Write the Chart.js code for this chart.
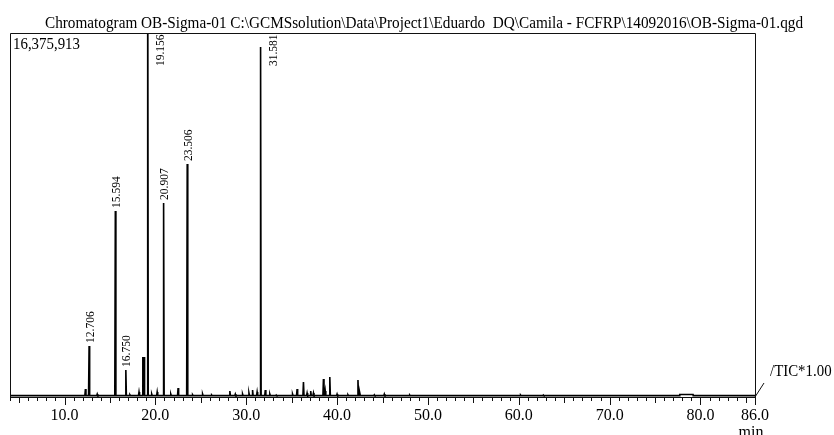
<!DOCTYPE html>
<html>
<head>
<meta charset="utf-8">
<script src="https://cdn.jsdelivr.net/npm/chart.js@4.4.1/dist/chart.umd.min.js"></script>
<style>
  html, body { margin:0; padding:0; background:#fff; }
  #wrap { width:834px; height:435px; }
</style>
</head>
<body>
<div id="wrap"><canvas id="chart-area" width="834" height="435"></canvas></div>
<script>
'use strict';

const titleText = 'Chromatogram OB-Sigma-01 C:\\GCMSsolution\\Data\\Project1\\Eduardo  DQ\\Camila - FCFRP\\14092016\\OB-Sigma-01.qgd';
const maxIntensity = 16375913;
const baseline = 60000;
const startTime = 4.0, endTime = 86.0;
const tickValues = [10, 20, 30, 40, 50, 60, 70, 80, 86];

// retention times (min) and heights (counts)
const peakTimes = [12.30, 12.706, 13.60, 15.594, 16.750, 17.20, 18.20, 18.62, 18.75, 19.156,
  19.60, 20.20, 20.907, 21.70, 22.50, 23.506, 24.10, 25.20, 26.20, 28.20,
  28.80, 29.60, 30.30, 30.70, 31.20, 31.581, 32.10, 32.60, 33.30, 35.10,
  35.60, 36.30, 36.70, 37.10, 37.40, 38.50, 38.70, 39.20, 40.00, 41.20,
  42.30, 42.50, 44.10, 45.20, 48.00, 60.20, 62.70];
const peakHeights = [360000, 2295000, 135000, 8368000, 1215000, 100000, 225000, 1800000, 1800000, 22000000,
  135000, 225000, 8728000, 135000, 405000, 10482000, 100000, 135000, 90000, 270000,
  135000, 135000, 180000, 315000, 225000, 15746000, 315000, 135000, 90000, 135000,
  360000, 675000, 180000, 270000, 180000, 810000, 270000, 900000, 135000, 100000,
  765000, 180000, 100000, 135000, 90000, 90000, 90000];
// raised flat stretch near the end of the run
const plateauStart = [77.7];
const plateauEnd = [79.2];
const plateauLevel = [110000];

const labeledPeaks = ['12.706', '15.594', '16.750', '19.156', '20.907', '23.506', '31.581'];

var points = [{x: startTime, y: baseline}, {x: endTime, y: baseline}];
const hw = 0.06;
peakTimes.forEach((t, i) => {
  points.push({x: t - hw, y: baseline});
  points.push({x: t, y: peakHeights[i]});
  points.push({x: t + hw, y: baseline});
});
plateauStart.forEach((a, i) => {
  points.push({x: a, y: baseline});
  points.push({x: a + 0.02, y: plateauLevel[i]});
  points.push({x: plateauEnd[i] - 0.02, y: plateauLevel[i]});
  points.push({x: plateauEnd[i], y: baseline});
});
points.sort((a, b) => a.x - b.x);

const serif = 'Liberation Serif, Times New Roman, serif';

var decorations = {
  id: 'decorations',
  afterDraw(chart) {
    const ctx = chart.ctx, a = chart.chartArea;
    const xs = chart.scales.x, ys = chart.scales.y;
    ctx.save();

    // frame
    ctx.strokeStyle = '#111';
    ctx.lineWidth = 1;
    ctx.beginPath();
    ctx.moveTo(a.left + 0.5, a.bottom + 0.5);
    ctx.lineTo(a.left + 0.5, a.top + 0.5);
    ctx.lineTo(a.right + 0.5, a.top + 0.5);
    ctx.lineTo(a.right + 0.5, a.bottom + 0.5);
    ctx.lineTo(a.left + 0.5, a.bottom + 0.5);
    ctx.stroke();

    // minute ticks
    ctx.beginPath();
    for (let m = startTime; m <= endTime; m++) {
      const px = Math.round(xs.getPixelForValue(m)) + 0.5;
      const len = (m % 10 === 0 || m === endTime) ? 8 : (m % 5 === 0 ? 6 : 4);
      ctx.moveTo(px, a.bottom);
      ctx.lineTo(px, a.bottom + len);
    }
    ctx.stroke();

    // title
    ctx.fillStyle = '#000';
    ctx.font = '16px ' + serif;
    ctx.textBaseline = 'alphabetic';
    ctx.textAlign = 'left';
    const w = ctx.measureText(titleText).width;
    const target = 758;
    ctx.save();
    ctx.translate(45, 28);
    ctx.scale(target / w, 1);
    ctx.fillText(titleText, 0, 0);
    ctx.restore();

    // full scale value
    ctx.font = '16px ' + serif;
    ctx.save();
    ctx.translate(a.left + 3, a.top + 16);
    ctx.scale(0.93, 1);
    ctx.fillText(maxIntensity.toLocaleString('en-US'), 0, 0);
    ctx.restore();

    // TIC leader
    ctx.beginPath();
    ctx.moveTo(a.right, a.bottom);
    ctx.lineTo(a.right + 9, a.bottom - 14);
    ctx.stroke();
    ctx.save();
    ctx.translate(a.right + 15, a.bottom - 21);
    ctx.scale(0.93, 1);
    ctx.fillText('/TIC*1.00', 0, 0);
    ctx.restore();

    // unit
    ctx.textAlign = 'center';
    ctx.fillText('min', xs.getPixelForValue(endTime) - 4, a.bottom + 40);

    // peak labels
    ctx.font = '11.5px ' + serif;
    ctx.textAlign = 'left';
    ctx.textBaseline = 'middle';
    labeledPeaks.forEach(lbl => {
      const t = parseFloat(lbl);
      const i = peakTimes.indexOf(t);
      const px = xs.getPixelForValue(t);
      const top = ys.getPixelForValue(Math.min(peakHeights[i], maxIntensity));
      let lx = px + 1.5, ly = top - 3;
      if (top < a.top + 40) { lx = px + 13; ly = a.top + 33; }
      ctx.save();
      ctx.translate(lx, ly);
      ctx.rotate(-Math.PI / 2);
      ctx.fillText(lbl, 0, 0);
      ctx.restore();
    });
    ctx.restore();
  }
};

var config = {
  type: 'line',
  data: {
    datasets: [{
      data: points,
      borderColor: '#000',
      borderWidth: 1.6,
      pointRadius: 0,
      tension: 0,
      fill: false
    }]
  },
  options: {
    responsive: false,
    animation: false,
    layout: {padding: {left: 10, right: 79, top: 33, bottom: 0}},
    plugins: {legend: {display: false}, tooltip: {enabled: false}},
    scales: {
      x: {
        type: 'linear',
        min: startTime,
        max: endTime,
        afterBuildTicks: s => { s.ticks = tickValues.map(v => ({value: v})); },
        afterFit: s => { s.height = 38; },
        grid: {display: false, drawTicks: false},
        border: {display: false},
        ticks: {
          padding: 9,
          color: '#000',
          autoSkip: false,
          maxRotation: 0,
          font: {family: serif, size: 16},
          callback: v => Number(v).toFixed(1)
        }
      },
      y: {display: false, min: 0, max: maxIntensity}
    }
  },
  plugins: [decorations]
};

window.onload = function() {
  var ctx = document.getElementById('chart-area').getContext('2d');
  window.myChart = new Chart(ctx, config);
};
</script>
</body>
</html>
